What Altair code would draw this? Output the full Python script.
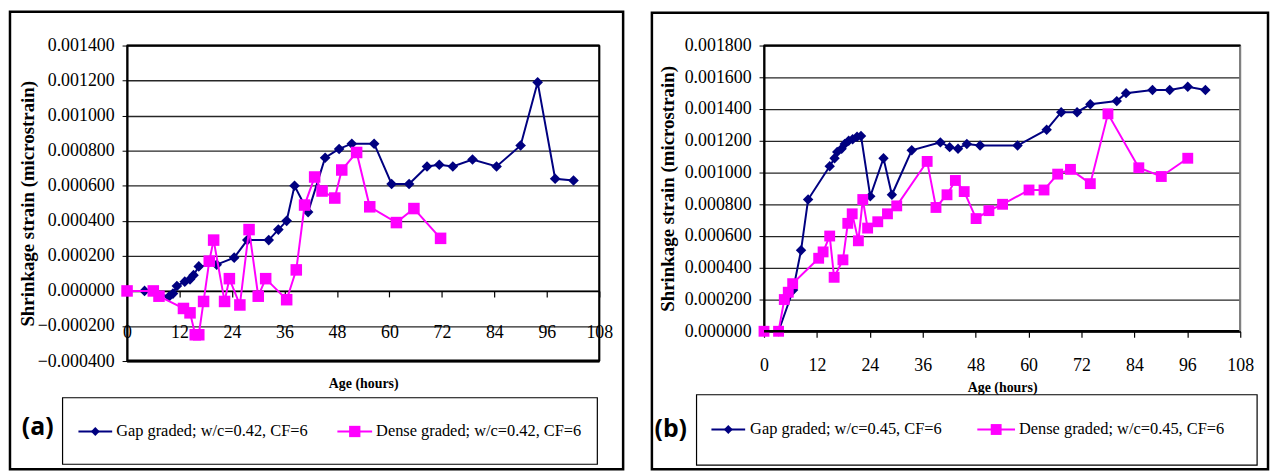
import altair as alt
import pandas as pd

# ---------------- data ----------------
X_TICKS = [0, 12, 24, 36, 48, 60, 72, 84, 96, 108]

A_NAMES = ["Gap graded; w/c=0.42, CF=6", "Dense graded; w/c=0.42, CF=6"]
A_GAP_HOURS = [4, 9.6, 10.5, 11.4, 13.2, 14.4, 15.2, 16.4, 20.5, 24.5, 27.5, 32.4,
               34.6, 36.5, 38.3, 41.4, 45.3, 48.5, 51.4, 56.5, 60.5, 64.5, 68.6,
               71.4, 74.5, 79.0, 84.5, 90.0, 93.9, 97.9, 102.1]
A_GAP_STRAIN = [0.0, -0.000032, -0.000015, 0.000028, 0.000053, 0.000066, 0.00009,
                0.00014, 0.00015, 0.00019, 0.00029, 0.00029, 0.00035, 0.0004, 0.0006,
                0.00045, 0.00076, 0.00081, 0.00084, 0.00084, 0.00061, 0.00061,
                0.00071, 0.00072, 0.00071, 0.00075, 0.00071, 0.00083, 0.00119,
                0.00064, 0.00063]
A_DENSE_HOURS = [0, 6, 7.3, 12.9, 14.4, 15.6, 16.4, 17.5, 18.8, 19.8, 22.3, 23.4,
                 25.8, 27.9, 30.0, 31.7, 36.5, 38.7, 40.6, 42.9, 44.6, 47.5, 49.1,
                 52.5, 55.5, 61.6, 65.6, 71.7]
A_DENSE_STRAIN = [0.0, 0.0, -0.00003, -0.0001, -0.000125, -0.00025, -0.00025,
                  -0.00006, 0.00017, 0.00029, -0.00006, 0.00007, -0.00008, 0.00035,
                  -0.00003, 0.00007, -0.00005, 0.00012, 0.00049, 0.00065, 0.00057,
                  0.00053, 0.00069, 0.00079, 0.00048, 0.00039, 0.00047, 0.0003]
A_Y_TICKS = [-0.0004, -0.0002, 0.0, 0.0002, 0.0004, 0.0006, 0.0008, 0.001, 0.0012, 0.0014]

B_NAMES = ["Gap graded; w/c=0.45, CF=6", "Dense graded; w/c=0.45, CF=6"]
B_GAP_HOURS = [3.3, 6.6, 8.4, 10.0, 14.9, 16.0, 16.6, 17.6, 18.3, 19.2, 20.1, 21.1,
               22.0, 24.1, 27.1, 29.0, 33.5, 40.0, 42.1, 44.0, 46.0, 49.0, 57.5,
               64.1, 67.4, 71.0, 74.0, 80.0, 82.1, 88.1, 92.0, 96.1, 100.1]
B_GAP_STRAIN = [0.0, 0.00026, 0.00051, 0.00083, 0.00104, 0.00109, 0.00113, 0.00115,
                0.00118, 0.0012, 0.00121, 0.001225, 0.00123, 0.00085, 0.00109,
                0.00086, 0.00114, 0.00119, 0.00116, 0.00115, 0.00118, 0.00117,
                0.00117, 0.00127, 0.00138, 0.00138, 0.00143, 0.00145, 0.0015,
                0.00152, 0.00152, 0.00154, 0.00152]
B_DENSE_HOURS = [0, 3.3, 4.6, 5.5, 6.5, 12.4, 13.4, 14.9, 15.9, 17.9, 19.0, 20.0,
                 21.4, 22.4, 23.5, 25.8, 28.0, 30.1, 37.0, 39.0, 41.5, 43.4, 45.4,
                 48.1, 51.0, 54.1, 60.1, 63.5, 66.6, 69.5, 74.0, 78.0, 85.0, 90.1, 96.1]
B_DENSE_STRAIN = [0.0, 0.0, 0.0002, 0.000246, 0.0003, 0.00046, 0.0005, 0.0006,
                  0.00034, 0.00045, 0.00068, 0.00074, 0.00057, 0.00083, 0.00065,
                  0.00069, 0.00074, 0.00079, 0.00107, 0.00078, 0.00086, 0.00095,
                  0.00088, 0.00071, 0.00076, 0.0008, 0.00089, 0.00089, 0.00099,
                  0.00102, 0.00093, 0.00137, 0.00103, 0.000975, 0.00109]
B_Y_TICKS = [0.0, 0.0002, 0.0004, 0.0006, 0.0008, 0.001, 0.0012, 0.0014, 0.0016, 0.0018]

COLORS = ["#000080", "#FF00FF"]
SHAPES = ["diamond", "square"]
SERIF = "Liberation Serif"
ONE = alt.Data(values=[{"v": 1}])


def panel(W, H, names, gap, dense, ydom, yticks, x_offset, x_label_pad, x_title_y,
          y_title_x, frame, lbox, lentries, ly, tag, tag_xy, bottom_w, right_color,
          sizes, legend_sizes):
    x_axis = alt.Axis(values=X_TICKS, format="d", grid=False, title="Age (hours)",
                      offset=x_offset, domainColor="black", domainWidth=1.5,
                      tickColor="black", tickSize=6, tickWidth=1.2,
                      labelFont=SERIF, labelFontSize=18, labelColor="black",
                      labelPadding=x_label_pad, labelFlush=False, labelOverlap=False,
                      titleFont=SERIF, titleFontSize=14, titleFontWeight="bold",
                      titleColor="black", titleY=x_title_y)
    y_axis = alt.Axis(values=yticks, format=".6f", grid=True, gridColor="#262626",
                      gridWidth=1.3, title="Shrinkage strain (microstrain)",
                      domainColor="black", domainWidth=2, tickColor="black",
                      tickSize=5, labelFont=SERIF, labelFontSize=18,
                      labelColor="black", labelPadding=8, labelFlush=False,
                      labelOverlap=False, titleFont=SERIF, titleFontSize=19,
                      titleFontWeight="bold", titleColor="black", titleX=y_title_x)
    xs = alt.Scale(domain=[0, 108], nice=False, zero=False)
    ys = alt.Scale(domain=ydom, nice=False, zero=False)
    xe = alt.X("hours:Q", scale=xs, axis=x_axis)
    ye = alt.Y("strain:Q", scale=ys, axis=y_axis)

    layers = []
    for (hours, strain), color, shape, size in zip([gap, dense], COLORS, SHAPES, sizes):
        df = pd.DataFrame({"hours": hours, "strain": strain})
        base = alt.Chart(df)
        layers.append(base.mark_line(color=color, strokeWidth=2).encode(x=xe, y=ye))
        layers.append(base.mark_point(color=color, shape=shape, filled=True, size=size,
                                      opacity=1).encode(x=xe, y=ye))
    # outer frame
    layers.append(alt.Chart(ONE).mark_rect(fillOpacity=0, stroke="black", strokeWidth=2.5)
                  .encode(x=alt.value(frame[0]), x2=alt.value(frame[1]),
                          y=alt.value(frame[2]), y2=alt.value(frame[3])))
    # thick bottom border and right border
    layers.append(alt.Chart(ONE).mark_rule(color="black", strokeWidth=bottom_w)
                  .encode(x=alt.value(0), x2=alt.value(W), y=alt.value(H)))
    layers.append(alt.Chart(ONE).mark_rule(color=right_color, strokeWidth=2)
                  .encode(x=alt.value(W), y=alt.value(0), y2=alt.value(H)))
    layers.append(alt.Chart(ONE).mark_rule(color="black", strokeWidth=2)
                  .encode(x=alt.value(0), x2=alt.value(W), y=alt.value(0)))
    # legend box
    layers.append(alt.Chart(ONE).mark_rect(fillOpacity=0, stroke="black", strokeWidth=1.2)
                  .encode(x=alt.value(lbox[0]), x2=alt.value(lbox[1]),
                          y=alt.value(lbox[2]), y2=alt.value(lbox[3])))
    for name, color, shape, size, (lx1, lx2, tx) in zip(names, COLORS, SHAPES, legend_sizes,
                                                        lentries):
        layers.append(alt.Chart(ONE).mark_rule(color=color, strokeWidth=2)
                      .encode(x=alt.value(lx1), x2=alt.value(lx2), y=alt.value(ly)))
        layers.append(alt.Chart(ONE).mark_point(color=color, shape=shape, filled=True,
                                                size=size, opacity=1)
                      .encode(x=alt.value((lx1 + lx2) / 2), y=alt.value(ly)))
        layers.append(alt.Chart(ONE).mark_text(align="left", baseline="middle", font=SERIF,
                                               fontSize=16.5, color="black")
                      .encode(x=alt.value(tx), y=alt.value(ly), text=alt.value(name)))
    layers.append(alt.Chart(ONE).mark_text(align="center", baseline="middle", font="Open Sans",
                                           fontSize=25, fontWeight="bold", color="black")
                  .encode(x=alt.value(tag_xy[0]), y=alt.value(tag_xy[1]), text=alt.value(tag)))
    return alt.layer(*layers).properties(width=W, height=H)


WA, HA = 476, 318
left = panel(
    WA, HA, A_NAMES, (A_GAP_HOURS, A_GAP_STRAIN), (A_DENSE_HOURS, A_DENSE_STRAIN),
    [-0.0004, 0.0014], A_Y_TICKS,
    x_offset=-(HA * 0.0004 / 0.0018), x_label_pad=27, x_title_y=86, y_title_x=-90,
    frame=(-118, 500, -34, 427), lbox=(-65, 474, 355, 422),
    lentries=[(-49, -15, -11), (212, 247, 251)], ly=389, tag="(a)", tag_xy=(-90, 385),
    bottom_w=3, right_color="black", sizes=[115, 135], legend_sizes=[80, 130])

WB, HB = 480, 288
right = panel(
    WB, HB, B_NAMES, (B_GAP_HOURS, B_GAP_STRAIN), (B_DENSE_HOURS, B_DENSE_STRAIN),
    [0.0, 0.0018], B_Y_TICKS,
    x_offset=0, x_label_pad=20, x_title_y=50, y_title_x=-87,
    frame=(-113, 508, -33, 427), lbox=(-68, 497, 352, 423),
    lentries=[(-53, -19, -14), (215, 253, 257)], ly=387, tag="(b)", tag_xy=(-94, 387),
    bottom_w=2.5, right_color="#808080", sizes=[110, 120], legend_sizes=[80, 120])

chart = (alt.hconcat(left, right, spacing=25)
         .properties(padding=0, background="white")
         .configure_view(stroke="black", strokeWidth=1.5)
         .configure_axis(labelFont=SERIF, titleFont=SERIF, labelColor="black",
                         titleColor="black")
         .configure_text(font=SERIF))

chart.save("out.html", embed_options={"renderer": "svg", "actions": False})
